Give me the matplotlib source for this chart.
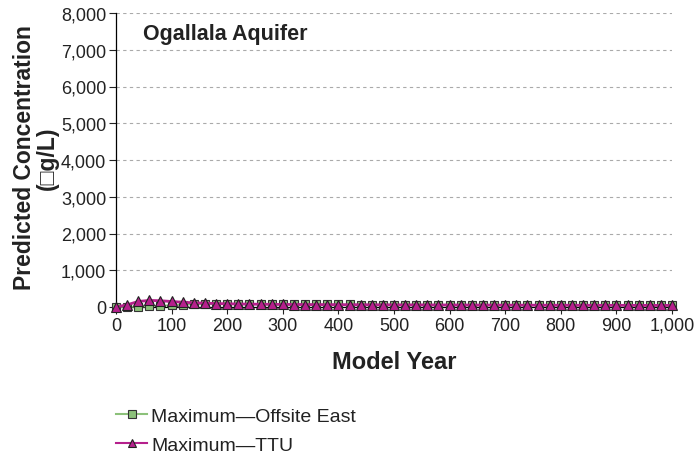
import matplotlib
matplotlib.use("Agg")
import matplotlib.pyplot as plt
from matplotlib.ticker import FuncFormatter

plt.rcParams['font.family'] = ['Liberation Sans', 'DejaVu Sans']

years = list(range(0, 1001, 20))
offsite_east = [0, 5, 10, 20, 35, 50, 65, 75, 80, 82,
                82, 80, 80, 78, 78, 76, 75, 74, 72, 72,
                70, 70, 68, 68, 66, 66, 65, 64, 63, 62,
                62, 61, 60, 60, 59, 58, 58, 57, 56, 56,
                55, 55, 54, 54, 53, 53, 52, 52, 51, 51, 50]
ttu = [0, 60, 150, 180, 170, 150, 130, 115, 105, 95,
       88, 82, 78, 75, 72, 70, 68, 66, 64, 63,
       62, 61, 60, 59, 58, 57, 56, 56, 55, 54,
       54, 53, 52, 52, 51, 50, 50, 49, 49, 48,
       48, 47, 47, 46, 46, 45, 45, 44, 44, 43, 43]

fig = plt.figure(figsize=(6.98, 4.56), dpi=100)
ax = fig.add_axes([116/698, 1-308/456, (672-116)/698, (308-14)/456])

ax.plot(years, offsite_east, color='#8cc17a', lw=1.3, marker='s', ms=6,
        mfc='#8cc17a', mec='#333333', mew=0.8, label='Maximum\u2014Offsite East', zorder=3)
ax.plot(years, ttu, color='#b5208c', lw=2, marker='^', ms=7.5,
        mfc='#b5208c', mec='#222222', mew=0.8, label='Maximum\u2014TTU', zorder=4)

ax.set_xlim(0, 1000)
ax.set_ylim(0, 8000)
ax.set_xticks(range(0, 1001, 100))
ax.set_yticks(range(0, 8001, 1000))
fmt = FuncFormatter(lambda v, p: f"{int(v):,}")
ax.xaxis.set_major_formatter(fmt)
ax.yaxis.set_major_formatter(fmt)
ax.tick_params(labelsize=13, length=5, width=0.8, colors='#222222', pad=2)
ax.yaxis.grid(True, linestyle=(0, (3, 3)), color='#aaaaaa', lw=0.8)
ax.set_axisbelow(True)
for s in ['top', 'right']:
    ax.spines[s].set_visible(False)
ax.spines['left'].set_linewidth(0.9)
ax.spines['bottom'].set_linewidth(0.9)
for l in ax.lines:
    l.set_clip_on(False)

ax.set_xlabel('Model Year', fontsize=17, fontweight='bold', labelpad=12, color='#222222')
fig.text(36/698, 1-158/456, 'Predicted Concentration\n(\u25a1g/L)', rotation=90,
         ha='center', va='center', multialignment='center', fontsize=16.5,
         fontweight='bold', linespacing=0.95, color='#222222')
ax.text((143-116)/556, 1-(24-14)/294, 'Ogallala Aquifer', transform=ax.transAxes, fontsize=15.5,
        fontweight='bold', va='top', ha='left', color='#222222')

leg = fig.legend(loc='upper left', bbox_to_anchor=(116/698, 1-408/456), frameon=False,
                 fontsize=14, handlelength=1.6, handletextpad=0.2, labelspacing=0.6,
                 borderaxespad=0, borderpad=0, markerscale=0.85, labelcolor='#222222')
for h in leg.legend_handles:
    h.set_linewidth(1.5)

fig.savefig('out.png', dpi=100)
